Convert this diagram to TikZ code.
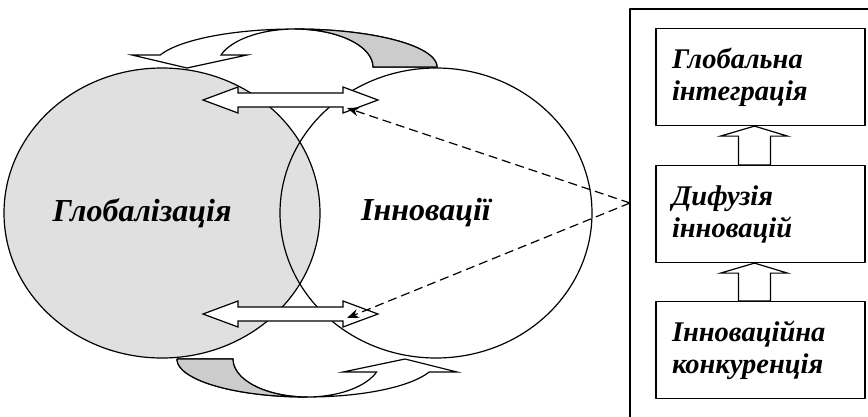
\documentclass[tikz,border=0pt]{standalone}
\usepackage{fontspec}
\setmainfont{Liberation Serif}
\usetikzlibrary{arrows.meta,calc}
\tikzset{
  blok/.style={draw, text width=177pt, inner xsep=16pt, inner ysep=0pt, minimum height=97pt, align=left, font=\fontsize{28.5}{32}\selectfont\bfseries\itshape},
  lbl/.style={font=\fontsize{32}{36}\selectfont\bfseries\itshape},
  fat/.style={draw, fill=white, line join=miter},
  shade/.style={draw, fill=black!20}
}
\begin{document}
\begin{tikzpicture}[x=1pt,y=-1pt,>={Stealth[length=12pt,width=9pt]}, line width=1.2pt, line join=round]
\useasboundingbox (0,0) rectangle (868,416);
\clip (0,0) rectangle (868,416);
% two ellipses
\draw[fill=black!12] (162,213) ellipse [x radius=158pt, y radius=145pt];
\draw (436,213) ellipse [x radius=156pt, y radius=145pt];
% curved arrow on top
\draw[fat] (132,55) -- plot[domain=161.6:0, samples=60] ({295+142*cos(\x)},{67-38*sin(\x)})
  -- (373,67) -- plot[domain=0:161.6, samples=60] ({295+78*cos(\x)},{67-38*sin(\x)})
  -- (247,55) -- (187,68) -- cycle;
\draw[shade] plot[domain=90:0, samples=40] ({295+142*cos(\x)},{67-38*sin(\x)})
  -- plot[domain=0:90, samples=40] ({295+78*cos(\x)},{67-38*sin(\x)}) -- cycle;
% curved arrow at the bottom
\draw[fat] (177,359) -- (233,359) -- plot[domain=180:20, samples=60] ({307+74*cos(\x)},{359+38*sin(\x)})
  -- (343,372) -- (405,359) -- (457,372)
  -- plot[domain=20:180, samples=60] ({307+130*cos(\x)},{359+38*sin(\x)}) -- cycle;
\draw[shade] plot[domain=180:90, samples=40] ({307+130*cos(\x)},{359+38*sin(\x)})
  -- plot[domain=90:180, samples=40] ({307+74*cos(\x)},{359+38*sin(\x)}) -- cycle;
% double arrows
\foreach \y in {100,314}
  \draw[fat] (203,\y) -- (238,\y-13) -- (238,\y-7) -- (343,\y-7) -- (343,\y-13) -- (378,\y)
    -- (343,\y+13) -- (343,\y+7) -- (238,\y+7) -- (238,\y+13) -- cycle;
\node[lbl] (glz) at (142,213) {Глобалізація};
\node[lbl] (inn) at (426,213) {Інновації};
% right frame
\draw (630,9) rectangle (900,440);
\node[blok] (glob) at (760.5,77) {Глобальна\\інтеграція};
\node[blok] (dif) at (760.5,214) {Дифузія\\інновацій};
\node[blok] (konk) at (760.5,350) {Інноваційна\\конкуренція};
\foreach \lo/\hi in {dif/glob, konk/dif}
  \draw[fat] ($(\hi.south)+(-6,0)$) -- ($(\hi.south)+(-40,10)$) -- ($(\hi.south)+(-22,10)$)
    -- ($(\lo.north)+(-22,0)$) -- ($(\lo.north)+(10,0)$) -- ($(\hi.south)+(10,10)$)
    -- ($(\hi.south)+(27,10)$) -- cycle;
% dashed links
\coordinate (src) at (630,203);
\coordinate (up) at (347,108);
\coordinate (dn) at (347,318);
\draw[dashed, dash pattern=on 9pt off 5pt, ->] (src) -- (up);
\draw[dashed, dash pattern=on 9pt off 5pt, ->] (src) -- (dn);
\end{tikzpicture}
\end{document}
